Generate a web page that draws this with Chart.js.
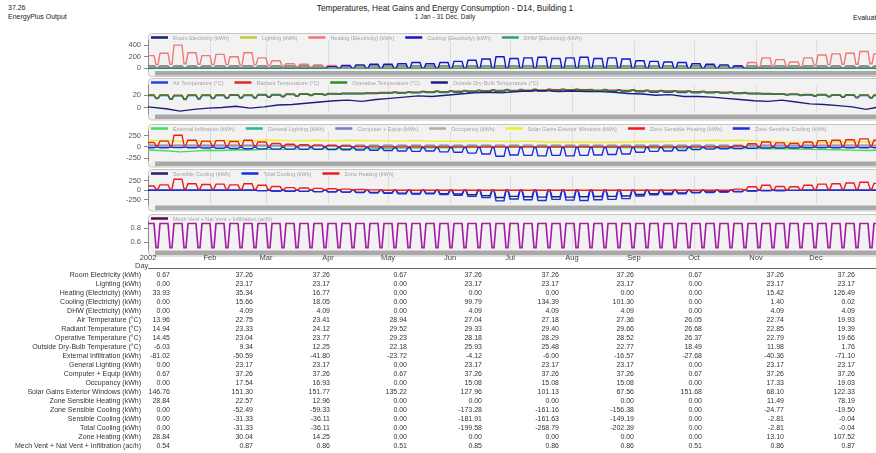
<!DOCTYPE html>
<html>
<head>
<meta charset="utf-8">
<script src="https://cdn.jsdelivr.net/npm/chart.js@4.4.0/dist/chart.umd.min.js"></script>
<style>
  html, body { margin: 0; padding: 0; overflow: hidden; }
  body { width: 876px; height: 453px; position: relative; background: #fff; font-family: 'Liberation Sans', Arial, sans-serif; }
  canvas { position: absolute; left: 0; }
  .t { position: absolute; white-space: nowrap; color: #333; line-height: 1; }
</style>
</head>
<body>
<div class="t" style="left:8px;top:4px;font-size:7px;color:#222">37.26</div>
<div class="t" style="left:8px;top:13px;font-size:7px;color:#222">EnergyPlus Output</div>
<div class="t" style="left:0;width:890px;text-align:center;top:4px;font-size:8.3px;color:#222">Temperatures, Heat Gains and Energy Consumption - D14, Building 1</div>
<div class="t" style="left:0;width:890px;text-align:center;top:14px;font-size:6.5px;color:#222">1 Jan - 31 Dec, Daily</div>
<div class="t" style="left:853px;top:14px;font-size:7px;color:#222">Evaluati</div>

<canvas id="p1" width="878" height="44" style="top:33px"></canvas>
<canvas id="p2" width="878" height="44" style="top:78px"></canvas>
<canvas id="p3" width="878" height="44" style="top:124px"></canvas>
<canvas id="p4" width="878" height="44" style="top:169px"></canvas>
<canvas id="p5" width="878" height="56" style="top:214px"></canvas>
<div class="t" style="left:135px;top:262px;font-size:7.5px;color:#444">Day</div>
<div style="position:absolute;left:148px;top:268px;width:730px;height:1px;background:#666"></div>
<div id="table"></div>

<script>
// x axis: day of year 2002 (0 = 1 Jan, a Tuesday)
const monthStarts = [0, 31, 59, 90, 120, 151, 181, 212, 243, 273, 304, 334];
const monthLabels = ['2002', 'Feb', 'Mar', 'Apr', 'May', 'Jun', 'Jul', 'Aug', 'Sep', 'Oct', 'Nov', 'Dec'];

// weekly readings (53 weeks, Mon-Sun), weekday level / weekend level
// panel 1 - energy (kWh)
const heatWd = [220,260,400,270,220,240,200,270,180,130, 80,70,60,50,20,0,0,0,0,0, 0,0,0,0,0,0,0,0,0,0, 0,0,0,0,0,0,0,0,0,0, 0,0,20,100,180,150,110,180,230,250, 260,290,250];
const heatWe = [60,70,80,70,60,60,50,60,50,40, 30,20,20,10,0,0,0,0,0,0, 0,0,0,0,0,0,0,0,0,0, 0,0,0,0,0,0,0,0,0,0, 0,0,0,20,40,40,30,50,60,70, 70,80,70];
const coolWd = [0,0,0,0,0,0,0,0,0,0, 0,0,0,30,50,60,70,70,80,100, 80,100,120,140,160,200,170,180,190,170, 180,190,170,180,160,130,120,110,100,80, 70,60,40,0,0,0,0,0,0,0, 0,0,0];
const coolWe = 0;
const roomElec = [37.26, 0.67];
const lighting = [23.17, 0];
const dhw = [4.09, 0];

// panel 2 - temperatures (°C)
const airWd = [19.5,19.5,19,19.5,19.5,19.5,20,19.5,20.5,20.5, 21,21.5,21.5,22,22.5,22.5,23,23.5,23.5,24, 24.5,24.5,25,25,25.5,26,26,26.5,26.5,27, 27,27,26.5,26.5,26,25.5,25,25,24.5,24, 24,23.5,23,22.5,22,21.5,21,20.5,20.5,20, 20,19.5,19.5];
const airWe = [14.5,13.5,13,14,14.5,15,15.5,15.5,16.5,17.5, 18.5,19.5,20.5,21.5,22.5,23,23.5,24.5,25,25.5, 26,26.5,27,27.5,28,28.5,28.5,29,29,29, 29,28.5,28.5,28,28,27.5,27,26.5,26,25.5, 25,24.5,23.5,22.5,21.5,20.5,19.5,18.5,17.5,16.5, 16,15.5,15];
const radWd = [20.5,20.5,20,20.5,20.5,20.5,21,20.5,21.5,21.5, 22,22.5,22.5,23,23.5,23.5,24,24.5,24.5,25, 26,26,26.5,27,27.5,28,28,28.5,28.5,29, 29,29,28.5,28.5,28,27.5,27,27,26.5,26, 25.5,25,24,23.5,23,22.5,22,21.5,21.5,21, 21,20.5,20.5];
const radWe = [15.5,14.5,14,15,15.5,16,16.5,16.5,17.5,18.5, 19.5,20.5,21.5,22.5,23.5,24,24.5,25.5,26,26.5, 27,27.5,28,28.5,29,29.5,29.5,30,30,30, 30,29.5,29.5,29,29,28.5,28,27.5,27,26.5, 26,25.5,24.5,23.5,22.5,21.5,20.5,19.5,18.5,17.5, 17,16.5,16];
const opWd = [20,20,19.5,20,20,20,20.5,20,21,21, 21.5,22,22,22.5,23,23,23.5,24,24,24.5, 25,25,25.5,26,26.5,27,27,27.5,27.5,28, 28,28,27.5,27.5,27,26.5,26,26,25.5,25, 24.5,24,23.5,23,22.5,22,21.5,21,21,20.5, 20.5,20,20];
const opWe = [15,14,13.5,14.5,15,15.5,16,16,17,18, 19,20,21,22,23,23.5,24,25,25.5,26, 26.5,27,27.5,28,28.5,29,29,29.5,29.5,29.5, 29.5,29,29,28.5,28.5,28,27.5,27,26.5,26, 25.5,25,24,23,22,21,20,19,18,17, 16.5,16,15.5];
const outside = [1,-2,-6,-3,-1,0,2,-1,1,4, 5,7,9,11,12,10,13,15,17,19, 18,20,22,24,25,24,26,27,28,26, 27,26,26,25,23,22,20,21,18,18, 17,15,13,11,10,12,9,6,5,3, 1,-3,0];

// panel 3 - heat gains (kWh)
const extInf = [-70,-85,-110,-95,-75,-80,-65,-70,-55,-50, -55,-45,-45,-42,-40,-38,-35,-30,-28,-24, -20,-18,-12,-8,-5,-4,-3,-2,-4,-6, -5,-8,-10,-12,-16,-18,-20,-22,-25,-28, -27,-30,-35,-38,-40,-42,-48,-55,-60,-65, -72,-80,-75];
const genLight = [23.17, 0];
const compEquip = [37.26, 0.67];
const occWd = [17.5,17.5,17.6,17.5,17.5,17.5,17.5,17.4,17.3,17.2, 17.1,17,17,16.9,16.8,16.6,16.4,16.2,16,15.8, 15.6,15.4,15.2,15.1,15.1,15.1,15.1,15.1,15.1,15.1, 15.1,15.1,15.1,15.1,15.2,15.4,15.6,15.8,16,16.3, 16.5,16.7,16.9,17.1,17.2,17.3,17.5,17.8,18.2,18.6, 19,19.2,19];
const occWe = 0;
const solar = [140,150,125,145,115,150,140,130,155,150, 140,145,150,135,150,145,140,130,135,140, 125,130,120,135,130,125,120,130,110,115, 105,110,100,105,110,120,115,125,130,140, 150,145,150,140,120,110,100,90,100,110, 120,115,120];
const sensHeatWd = [100,130,260,150,130,140,120,150,110,80, 60,50,40,30,20,10,0,0,0,0, 0,0,0,0,0,0,0,0,0,0, 0,0,0,0,0,0,0,0,0,0, 0,0,20,70,110,90,80,110,140,150, 160,180,150];
const sensHeatWe = [30,30,40,30,30,25,25,25,20,20, 15,10,10,5,0,0,0,0,0,0, 0,0,0,0,0,0,0,0,0,0, 0,0,0,0,0,0,0,0,0,0, 0,0,0,10,15,15,15,20,25,30, 30,35,30];
const sensCoolWd = [-20,-20,-15,-20,-25,-30,-35,-40,-45,-50, -50,-55,-55,-60,-65,-70,-75,-80,-90,-100, -90,-110,-120,-140,-160,-210,-180,-190,-200,-190, -200,-190,-180,-170,-160,-120,-100,-90,-80,-60, -50,-40,-35,-30,-25,-25,-25,-20,-20,-20, -20,-20,-20];
const sensCoolWe = [-5,-5,-5,-5,-5,-5,-5,-5,-5,-5, -5,-5,-5,-10,-10,-10,-10,-15,-15,-15, -15,-15,-15,-15,-15,-15,-15,-15,-15,-15, -15,-15,-15,-15,-15,-10,-10,-10,-5,-5, -5,-5,-5,-5,-5,-5,-5,-5,-5,-5, -5,-5,-5];

// panel 4 - cooling / heating (kWh)
const sensibleCoolWd = [0,0,0,0,0,0,0,0,-10,-20, -25,-30,-35,-40,-50,-55,-60,-70,-75,-85, -80,-90,-100,-120,-140,-190,-160,-170,-180,-170, -180,-170,-165,-160,-150,-110,-90,-80,-70,-55, -45,-40,-30,-15,-8,-5,-3,0,0,0, 0,0,0];
const totalCoolWd = [0,0,0,0,0,0,0,0,-10,-20, -25,-30,-35,-40,-50,-60,-70,-80,-90,-100, -95,-110,-130,-160,-190,-280,-230,-250,-270,-240, -260,-270,-250,-240,-220,-150,-120,-110,-90,-70, -60,-50,-40,-20,-10,-5,-3,0,0,0, 0,0,0];
const coolWeekend = 0;
const zoneHeatWd = [110,140,290,170,150,160,140,170,130,100, 70,60,50,40,30,20,10,0,0,0, 0,0,0,0,0,0,0,0,0,0, 0,0,0,0,0,0,0,0,0,0, 0,0,30,90,130,100,90,130,160,170, 190,210,180];
const zoneHeatWe = [30,30,40,30,30,30,25,25,20,20, 15,10,10,5,0,0,0,0,0,0, 0,0,0,0,0,0,0,0,0,0, 0,0,0,0,0,0,0,0,0,0, 0,0,0,10,15,15,15,20,25,30, 30,35,30];

// panel 5 - air changes (ac/h)
const vent = [0.87, 0.52];

// y axis ticks per panel
const p1Ticks = [0, 200, 400];
const p2Ticks = [0, 20];
const p3Ticks = [-250, 0, 250];
const p4Ticks = [-250, 0, 250];
const p5Ticks = [0.6, 0.8];

// table under the chart
const rowLabels = [
  'Room Electricity (kWh)', 'Lighting (kWh)', 'Heating (Electricity) (kWh)', 'Cooling (Electricity) (kWh)',
  'DHW (Electricity) (kWh)', 'Air Temperature (°C)', 'Radiant Temperature (°C)', 'Operative Temperature (°C)',
  'Outside Dry-Bulb Temperature (°C)', 'External Infiltration (kWh)', 'General Lighting (kWh)', 'Computer + Equip (kWh)',
  'Occupancy (kWh)', 'Solar Gains Exterior Windows (kWh)', 'Zone Sensible Heating (kWh)', 'Zone Sensible Cooling (kWh)',
  'Sensible Cooling (kWh)', 'Total Cooling (kWh)', 'Zone Heating (kWh)', 'Mech Vent + Nat Vent + Infiltration (ac/h)'
];
const tableValues = [
  [0.67, 37.26, 37.26, 0.67, 37.26, 37.26, 37.26, 0.67, 37.26, 37.26],
  [0.00, 23.17, 23.17, 0.00, 23.17, 23.17, 23.17, 0.00, 23.17, 23.17],
  [33.93, 35.34, 16.77, 0.00, 0.00, 0.00, 0.00, 0.00, 15.42, 126.49],
  [0.00, 15.66, 18.05, 0.00, 99.79, 134.39, 101.30, 0.00, 1.40, 0.02],
  [0.00, 4.09, 4.09, 0.00, 4.09, 4.09, 4.09, 0.00, 4.09, 4.09],
  [13.96, 22.75, 23.41, 28.94, 27.04, 27.18, 27.36, 26.05, 22.74, 19.93],
  [14.94, 23.33, 24.12, 29.52, 29.33, 29.40, 29.66, 26.68, 22.85, 19.39],
  [14.45, 23.04, 23.77, 29.23, 28.18, 28.29, 28.52, 26.37, 22.79, 19.66],
  [-6.03, 9.34, 12.25, 22.18, 25.93, 25.48, 22.77, 18.49, 11.98, 1.76],
  [-81.02, -50.59, -41.80, -23.72, -4.12, -6.00, -16.57, -27.68, -40.36, -71.10],
  [0.00, 23.17, 23.17, 0.00, 23.17, 23.17, 23.17, 0.00, 23.17, 23.17],
  [0.67, 37.26, 37.26, 0.67, 37.26, 37.26, 37.26, 0.67, 37.26, 37.26],
  [0.00, 17.54, 16.93, 0.00, 15.08, 15.08, 15.08, 0.00, 17.33, 19.03],
  [146.76, 151.30, 151.77, 135.22, 127.96, 101.13, 67.56, 151.68, 68.10, 122.33],
  [28.84, 22.57, 12.96, 0.00, 0.00, 0.00, 0.00, 0.00, 11.49, 78.19],
  [0.00, -52.49, -59.33, 0.00, -173.28, -161.16, -156.38, 0.00, -24.77, -19.50],
  [0.00, -31.33, -36.11, 0.00, -181.91, -161.63, -149.19, 0.00, -2.81, -0.04],
  [0.00, -31.33, -36.11, 0.00, -199.58, -268.79, -202.39, 0.00, -2.81, -0.04],
  [28.84, 30.04, 14.25, 0.00, 0.00, 0.00, 0.00, 0.00, 13.10, 107.52],
  [0.54, 0.87, 0.86, 0.51, 0.85, 0.86, 0.86, 0.51, 0.86, 0.87]
];

// expand weekly weekday/weekend readings to the 365 days
function daily(wd, we) {
  const out = [];
  for (let d = 0; d < 365; d++) {
    const w = Math.floor((d + 1) / 7);
    const dow = (d + 2) % 7; // 0 = Sunday
    const src = (dow === 0 || dow === 6) ? we : wd;
    out.push({ x: d, y: Array.isArray(src) ? src[w] : src });
  }
  return out;
}
function weekly(vals) {
  return vals.map((v, w) => ({ x: w === 0 ? 0 : Math.min(364, 7 * w + 2), y: v }));
}
function ds(label, data, color, legendColor) {
  return { label, data, borderColor: color, legendColor: legendColor || color };
}

const deco = {
  id: 'deco',
  beforeDraw(chart) {
    const { ctx, chartArea } = chart;
    const w = chart.width;
    const bottom = Math.min(chartArea.bottom + 7, chart.height - 0.5);
    ctx.save();
    ctx.fillStyle = '#f2f2f2';
    ctx.strokeStyle = '#c6c6c6';
    ctx.lineWidth = 1;
    ctx.beginPath();
    ctx.roundRect(148.5, 0.5, w, bottom - 0.5, 3);
    ctx.fill();
    ctx.stroke();
    ctx.fillStyle = '#a9a9a9';
    ctx.fillRect(155, chartArea.bottom + 1.5, w - 155, 4.5);
    ctx.restore();
  },
  afterDraw(chart) {
    const { ctx } = chart;
    let x = 151;
    const y = 4.5;
    ctx.save();
    ctx.font = '5.5px "Liberation Sans", Arial, sans-serif';
    ctx.textBaseline = 'middle';
    chart.data.datasets.forEach(d => {
      ctx.strokeStyle = d.legendColor;
      ctx.lineWidth = 2.5;
      ctx.beginPath();
      ctx.moveTo(x, y);
      ctx.lineTo(x + 17, y);
      ctx.stroke();
      ctx.fillStyle = '#a4a4a4';
      ctx.fillText(d.label, x + 22, y + 0.5);
      x += 22 + ctx.measureText(d.label).width + 11;
    });
    ctx.restore();
  }
};

function makePanel(id, datasets, yMin, yMax, yTicks, padBottom, showX, lineWidth) {
  const n = datasets.length;
  datasets.forEach((d, i) => { d.order = n - i; });
  return new Chart(document.getElementById(id), {
    type: 'line',
    data: { datasets },
    options: {
      responsive: false,
      animation: false,
      layout: { padding: { top: 7, bottom: padBottom, left: 0, right: 0 } },
      elements: {
        point: { radius: 0 },
        line: { borderWidth: lineWidth || 1.4, tension: 0 }
      },
      plugins: { legend: { display: false }, tooltip: { enabled: false } },
      scales: {
        x: {
          type: 'linear', min: 0, max: 365,
          afterBuildTicks: s => { s.ticks = monthStarts.map(v => ({ value: v })); },
          afterFit: s => { s.height = showX ? 21 : 0; },
          ticks: {
            display: showX, autoSkip: false, maxRotation: 0, padding: 4,
            color: '#444', font: { size: 7.5, family: 'Liberation Sans' },
            callback: (v, i) => monthLabels[i]
          },
          grid: { color: '#dddddd', drawTicks: false },
          border: { display: false }
        },
        y: {
          min: yMin, max: yMax,
          afterBuildTicks: s => { s.ticks = yTicks.map(v => ({ value: v })); },
          afterFit: s => { s.width = 148; },
          ticks: { padding: 3, color: '#555', font: { size: 7.5, family: 'Liberation Sans' } },
          grid: { drawOnChartArea: false, tickLength: 4, tickColor: '#888' },
          border: { color: '#8a8a8a' }
        }
      }
    },
    plugins: [deco]
  });
}

makePanel('p1', [
  ds('Room Electricity (kWh)', daily(roomElec[0], roomElec[1]), '#1c1c6e'),
  ds('Lighting (kWh)', daily(lighting[0], lighting[1]), '#c8c840'),
  ds('Heating (Electricity) (kWh)', daily(heatWd, heatWe), '#f07878'),
  ds('Cooling (Electricity) (kWh)', daily(coolWd, coolWe), '#1414cc'),
  ds('DHW (Electricity) (kWh)', daily(dhw[0], dhw[1]), '#2e9e7e')
], -20, 480, p1Ticks, 6.5, false);

makePanel('p2', [
  ds('Air Temperature (°C)', daily(airWd, airWe), '#2244dd'),
  ds('Radiant Temperature (°C)', daily(radWd, radWe), '#dd2a2a'),
  ds('Operative Temperature (°C)', daily(opWd, opWe), '#2e8b2e'),
  ds('Outside Dry-Bulb Temperature (°C)', weekly(outside), '#1e1e7a')
], -9, 36, p2Ticks, 9, false);

makePanel('p3', [
  ds('External Infiltration (kWh)', weekly(extInf), '#44dd55'),
  ds('General Lighting (kWh)', daily(genLight[0], genLight[1]), '#2ab59a'),
  ds('Computer + Equip (kWh)', daily(compEquip[0], compEquip[1]), '#7a7ab8'),
  ds('Occupancy (kWh)', daily(occWd, occWe), '#b5ad9e'),
  ds('Solar Gains Exterior Windows (kWh)', weekly(solar), '#eeee22'),
  ds('Zone Sensible Heating (kWh)', daily(sensHeatWd, sensHeatWe), '#ee1c1c'),
  ds('Zone Sensible Cooling (kWh)', daily(sensCoolWd, sensCoolWe), '#1a2ee0')
], -293, 345, p3Ticks, 8, false);

makePanel('p4', [
  ds('Sensible Cooling (kWh)', daily(sensibleCoolWd, coolWeekend), '#22226e'),
  ds('Total Cooling (kWh)', daily(totalCoolWd, coolWeekend), '#1a2ee0'),
  ds('Zone Heating (kWh)', daily(zoneHeatWd, zoneHeatWe), '#ee1c1c')
], -361, 361, p4Ticks, 9, false);

makePanel('p5', [
  ds('Mech Vent + Nat Vent + Infiltration (ac/h)', daily(vent[0], vent[1]), '#a31ca3', '#5c0a40')
], 0.5, 0.9, p5Ticks, 0, true, 1.6);

// table
const colRight = [170, 253, 330, 407, 482, 559, 634, 702, 784, 855];
const table = document.getElementById('table');
rowLabels.forEach((label, i) => {
  const top = 275 + i * 9 - 4;
  const l = document.createElement('div');
  l.className = 't';
  l.style.cssText = `right:${876 - 141}px;top:${top}px;font-size:7px`;
  l.textContent = label;
  table.appendChild(l);
  tableValues[i].forEach((v, j) => {
    const c = document.createElement('div');
    c.className = 't';
    c.style.cssText = `right:${876 - colRight[j]}px;top:${top}px;font-size:7px`;
    c.textContent = v.toFixed(2);
    table.appendChild(c);
  });
});
</script>
</body>
</html>
